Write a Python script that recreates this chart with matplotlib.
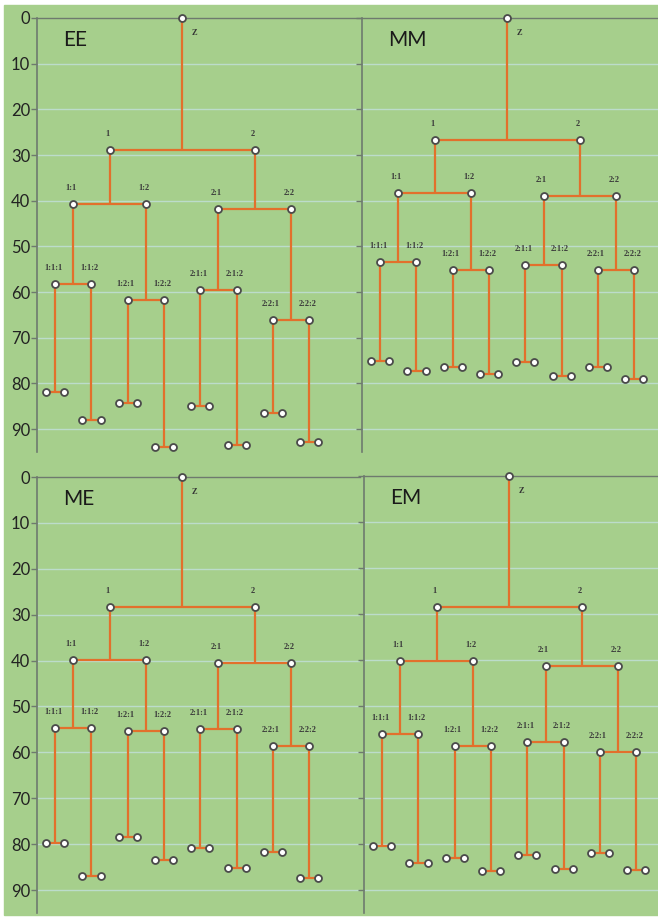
import matplotlib.pyplot as plt
from matplotlib.patches import Rectangle

# split heights (y), per panel
# lvl1: children of Z, lvl2: children of 1 and 2, lvl3: children of 1:1 .. 2:2,
# leaf: the bottom pairs under 1:1:1 .. 2:2:2
panel_names = ["EE", "MM", "ME", "EM"]

ee_lvl1 = 28.8
ee_lvl2 = [40.7, 41.8]
ee_lvl3 = [58.2, 61.8, 59.5, 66.2]
ee_leaf = [81.9, 88.1, 84.2, 93.9, 85.0, 93.4, 86.5, 92.8]

mm_lvl1 = 26.7
mm_lvl2 = [38.4, 39.0]
mm_lvl3 = [53.4, 55.1, 54.0, 55.1]
mm_leaf = [75.1, 77.2, 76.5, 77.9, 75.4, 78.3, 76.4, 79.0]

me_lvl1 = 28.3
me_lvl2 = [39.9, 40.6]
me_lvl3 = [54.6, 55.4, 54.9, 58.7]
me_leaf = [79.8, 86.9, 78.4, 83.5, 80.9, 85.3, 81.6, 87.4]

em_lvl1 = 28.5
em_lvl2 = [40.3, 41.3]
em_lvl3 = [56.0, 58.8, 57.8, 60.0]
em_leaf = [80.5, 84.1, 83.1, 85.9, 82.3, 85.4, 81.9, 85.7]

y_ticks = [0, 10, 20, 30, 40, 50, 60, 70, 80, 90]

GREEN = "#a6cf8c"
ORANGE = "#e2702c"
GRID = "#bcdccb"
SPINE = "#6e7a6e"

W, H = 658, 924
fig = plt.figure(figsize=(W / 100, H / 100), dpi=100, facecolor="white")
fig.patches.append(Rectangle((4 / W, 9 / H), (W - 4) / W, (H - 14) / H,
                             transform=fig.transFigure, color=GREEN, zorder=-10))

# pixel boxes (left, right, top, bottom) for the four panels
boxes = [(37, 360, 18, 452), (362, 658, 18, 452),
         (37, 360, 477, 913), (364, 658, 476, 913)]
PX_PER_X = 36.3


def pt(px):
    return px * 72 / 100


def draw_tree(ax, lvl1, lvl2, lvl3, leaf):
    ys = [None, [lvl1], lvl2, lvl3]
    nodes = []  # (x, y, name, level, index)
    for k in range(4):
        span = 2 ** (3 - k)
        for i in range(2 ** k):
            x = 1 + span * i + (span - 1) / 2
            y = 0.0 if k == 0 else ys[k][i // 2]
            name = "Z" if k == 0 else ":".join(str(int(b) + 1) for b in format(i, "0%db" % k))
            nodes.append((x, y, name, k, i))

    mx, my = [], []
    for x, y, name, k, i in nodes:
        if k < 3:
            cy = ys[k + 1][i]
            half = 2 ** (3 - k) / 4
        else:
            cy = leaf[i]
            half = 0.25
        ax.plot([x, x], [y, cy], color=ORANGE, lw=1.6, zorder=2, solid_capstyle="butt")
        ax.plot([x - half, x + half], [cy, cy], color=ORANGE, lw=1.6, zorder=2)
        mx.append(x)
        my.append(y)
        if k == 3:
            mx += [x - 0.25, x + 0.25]
            my += [cy, cy]
        if k == 0:
            ax.annotate(name, (x, y), xytext=(pt(12), pt(-15)), textcoords="offset points",
                        ha="center", va="center", fontsize=6, fontweight="bold",
                        family="Liberation Serif", color="#333333")
        else:
            ax.annotate(name, (x, y), xytext=(pt(-2), pt(16)), textcoords="offset points",
                        ha="center", va="center", fontsize=6, fontweight="bold",
                        family="Liberation Serif", color="#3a3a3a")
    ax.plot(mx, my, "o", ms=5, mfc="white", mec="#4a4a4a", mew=1.3, zorder=3, ls="none",
            clip_on=False)


data = [(ee_lvl1, ee_lvl2, ee_lvl3, ee_leaf), (mm_lvl1, mm_lvl2, mm_lvl3, mm_leaf),
        (me_lvl1, me_lvl2, me_lvl3, me_leaf), (em_lvl1, em_lvl2, em_lvl3, em_leaf)]

for n, (l, r, t, b) in enumerate(boxes):
    ax = fig.add_axes([l / W, 1 - b / H, (r - l) / W, (b - t) / H])
    ax.set_facecolor("none")
    ax.set_xlim(0.5, 0.5 + (r - l) / PX_PER_X)
    ax.set_ylim(95, 0)
    for s in ["right", "bottom"]:
        ax.spines[s].set_visible(False)
    ax.spines["left"].set_color(SPINE)
    ax.spines["top"].set_color(SPINE)
    ax.spines["left"].set_linewidth(1.2)
    ax.spines["top"].set_linewidth(1.0)
    ax.set_xticks([])
    ax.set_yticks(y_ticks)
    for yv in y_ticks[1:]:
        ax.axhline(yv, color=GRID, lw=1.0, zorder=1)
    ax.tick_params(axis="y", length=4, width=1, color=SPINE, pad=1, labelsize=12,
                   labelcolor="#222222")
    if n % 2 == 1:
        ax.set_yticklabels([])
    else:
        for lab in ax.get_yticklabels():
            lab.set_family("Lato")
    ax.annotate(panel_names[n], (0, 1), xycoords="axes fraction", xytext=(pt(26), pt(-22)),
                textcoords="offset points", ha="left", va="center", fontsize=15,
                family="Lato", color="#1a1a1a")
    draw_tree(ax, *data[n])

fig.savefig("out.png", dpi=100, facecolor="white")
